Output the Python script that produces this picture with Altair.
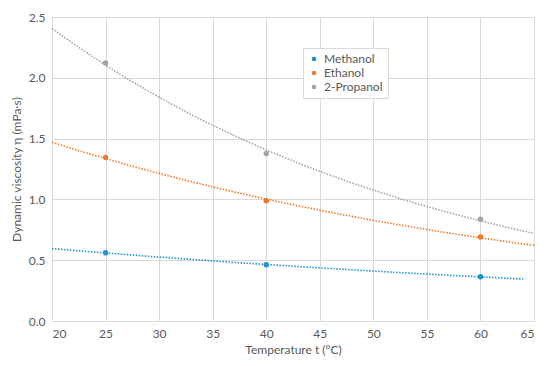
import altair as alt
import pandas as pd

temps = [25, 40, 60]
methanol = [0.561, 0.462, 0.364]
ethanol = [1.344, 0.988, 0.690]
propanol = [2.121, 1.378, 0.836]
series_names = ["Methanol", "Ethanol", "2-Propanol"]
colors = ["#1F93D0", "#F07A2A", "#A3A3A3"]

rows = []
for name, vals in zip(series_names, [methanol, ethanol, propanol]):
    for t, v in zip(temps, vals):
        rows.append({"t": t, "eta": v, "series": name})
df = pd.DataFrame(rows)

font = "Lato"
grey = "#595959"

color_scale = alt.Scale(domain=series_names, range=colors)
legend = alt.Legend(title=None, orient="none", legendX=251, legendY=31,
                    symbolSize=22, symbolType="circle", symbolStrokeWidth=0,
                    symbolDash=[1, 0], symbolOffset=0,
                    labelFontSize=12, labelColor=grey, labelFont=font,
                    labelExpr="datum.label + '\u00a0\u00a0\u00a0\u00a0\u00a0\u00a0\u00a0\u00a0'",
                    rowPadding=2, padding=5, labelOffset=4,
                    fillColor="white", strokeColor="#D9D9D9")
color_enc = alt.Color("series:N", scale=color_scale, sort=series_names, legend=legend)

x_enc = alt.X("t:Q", scale=alt.Scale(domain=[20, 65], nice=False),
              axis=alt.Axis(values=list(range(20, 66, 5)), title="Temperature t (°C)"))
y_enc = alt.Y("eta:Q", scale=alt.Scale(domain=[0, 2.5], nice=False),
              axis=alt.Axis(values=[0, 0.5, 1.0, 1.5, 2.0, 2.5], format=".1f",
                            title="Dynamic viscosity η (mPa·s)"))

base = alt.Chart(df)

trend_main = base.transform_filter(
    "datum.series != 'Methanol'"
).transform_regression(
    "t", "eta", method="exp", groupby=["series"], extent=[20, 65]
).mark_line(strokeDash=[1.5, 1.5], strokeWidth=1.6).encode(
    x=x_enc, y=y_enc, color=color_enc,
)

trend_meth = base.transform_filter(
    "datum.series == 'Methanol'"
).transform_regression(
    "t", "eta", method="exp", groupby=["series"], extent=[20, 64]
).mark_line(strokeDash=[1.5, 1.5], strokeWidth=1.6).encode(
    x=x_enc, y=y_enc, color=color_enc,
)

points = base.mark_circle(size=30, opacity=1).encode(
    x=x_enc, y=y_enc, color=color_enc,
)

chart = alt.layer(trend_main, trend_meth, points).properties(
    width=534, height=350,
    autosize=alt.AutoSizeParams(type="fit", contains="padding"),
    padding={"left": 2, "top": 3, "right": 4, "bottom": 3},
).configure_view(stroke=None).configure_axis(
    grid=True, gridColor="#D9D9D9", gridWidth=1,
    domainColor="#D9D9D9", ticks=False,
    labelColor=grey, labelFont=font, labelFontSize=12, labelPadding=7,
    titleColor=grey, titleFont=font, titleFontSize=12, titleFontWeight="normal",
).configure_axisY(domain=False, titlePadding=5).configure_axisX(titlePadding=5)

chart.save("out.html", embed_options={"renderer": "svg", "actions": False})
